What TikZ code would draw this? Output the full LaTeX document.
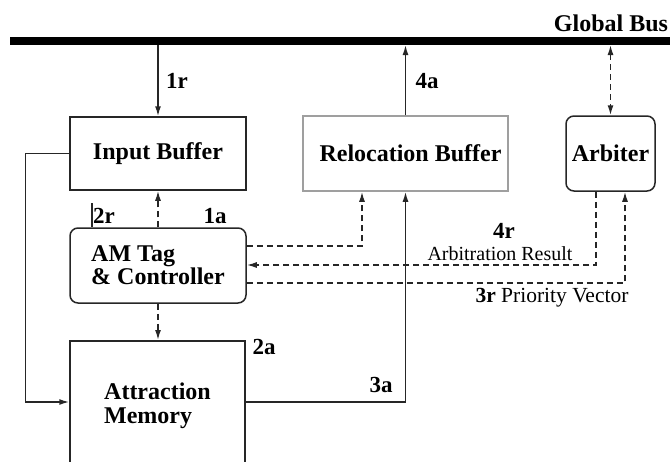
\documentclass[tikz,border=0pt]{standalone}
\usepackage{fontspec}
\setmainfont{Liberation Serif}
\usetikzlibrary{arrows.meta,calc}
\begin{document}
\begin{tikzpicture}[x=1pt,y=-1pt,
  box/.style={draw=black!85,line width=1.5pt,inner sep=0pt,font=\fontsize{24}{21.5}\selectfont\bfseries},
  rbox/.style={box,rounded corners=8pt},
  lab/.style={font=\fontsize{23}{23}\selectfont\bfseries,inner sep=0pt},
  conn/.style={line width=1.5pt,draw=black!85},
  dconn/.style={conn,dash pattern=on 6pt off 4pt},
  >={Latex[length=10pt,width=6pt]}]
\useasboundingbox (0,0) rectangle (670,461);
% blocks
\node[box,minimum width=176pt,minimum height=73pt] (ib) at (158,153.5) {Input Buffer};
\node[box,draw=gray!75,minimum width=205pt,minimum height=75pt,
  label={[font=\fontsize{24}{20}\selectfont\bfseries,inner sep=0pt,xshift=5pt]center:Relocation Buffer}] (rb) at (405.5,153.5) {};
\node[rbox,minimum width=89pt,minimum height=75pt] (ar) at (610.5,153.5) {Arbiter};
\node[rbox,minimum width=176pt,minimum height=75pt,align=left] (am) at (158,265.5) {AM Tag\\\& Controller};
\node[box,minimum width=175pt,minimum height=130pt,align=left,anchor=north,
  font=\fontsize{24}{24}\selectfont\bfseries] (mem) at (157.5,340) {Attraction\\Memory};
% helper coordinates
\coordinate (busL) at (10,41);
\coordinate (busR) at (670,41);
\coordinate (busbot) at (0,45);
\coordinate (loopY) at (0,402);
\coordinate (c2r) at (92,203);
\coordinate (d1) at (362,246);
\coordinate (d2) at (596,265);
\coordinate (d3) at (625,283);
% connectors
\draw[conn,->] (ib.north |- busL) -- (ib.north);
\draw[conn,->] (rb.north) -- (rb.north |- busbot);
\draw[dconn,<->] (ar.north |- busbot) -- (ar.north);
\draw[conn,->] (ib.west) -- ($(ib.west)+(-44,0)$) |- (mem.west |- loopY);
\draw[conn,->] (mem.east |- loopY) -| (rb.south);
\draw[conn] (c2r) -- (c2r |- am.north);
\draw[dconn,->] (am.north) -- (ib.south);
\draw[dconn,->] (am.south) -- (am.south |- mem.north);
\draw[dconn,->] (am.east |- d1) -| (rb.south -| d1);
\draw[dconn,->] (ar.south -| d2) |- (am.east |- d2);
\draw[dconn,->] (am.east |- d3) -| (ar.south -| d3);
% bus
\draw[line width=8pt] (busL) -- (busR);
% labels
\node[lab] (l1r) at (177,81) {1r};
\node[lab] (l4a) at (427,81) {4a};
\node[lab] (l2r) at (104,216) {2r};
\node[lab] (l1a) at (215,216) {1a};
\node[lab] (l2a) at (264,347) {2a};
\node[lab] (l3a) at (381,385) {3a};
\node[lab] (l4r) at (504,231) {4r};
\node[font=\fontsize{20}{20}\selectfont,inner sep=0pt] (lar) at (500,254) {Arbitration Result};
\node[font=\fontsize{21.5}{21.5}\selectfont,inner sep=0pt,anchor=base] (lpv) at (552,302) {\textbf{3r} Priority Vector};
\node[font=\fontsize{24}{24}\selectfont\bfseries,inner sep=0pt] (gb) at (611,23) {Global Bus};
\end{tikzpicture}
\end{document}
